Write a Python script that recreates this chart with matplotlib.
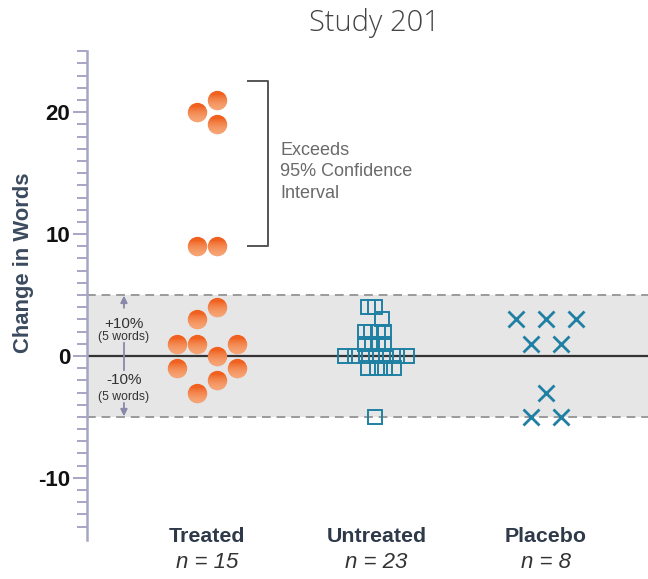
import matplotlib
matplotlib.use("Agg")
import numpy as np
import matplotlib.pyplot as plt
import matplotlib.transforms as mtransforms
from matplotlib.path import Path

plt.rcParams["axes.unicode_minus"] = False

# ---- data -------------------------------------------------------------
groups = ["Treated", "Untreated", "Placebo"]
group_n = ["n = 15", "n = 23", "n = 8"]

treated = [21, 20, 19, 9, 9, 4, 3, 1, 1, 1, 0, -1, -1, -2, -3]
untreated = [4, 4, 3, 2, 2, 2, 2, 1, 1, 1, 1,
             0, 0, 0, 0, 0, 0, 0, -1, -1, -1, -1, -5]
placebo = [3, 3, 3, 1, 1, -3, -5, -5]

band_limit = 5          # +/-10% of baseline (5 words)
ci_low, ci_high = 9, 22.6

# ---- swarm layout (horizontal lanes inside each group) ----------------
treated_lanes = [0.5, -0.5, 0.5, -0.5, 0.5, 0.5, -0.5, -1.5, -0.5, 1.5,
                 0.5, -1.5, 1.5, 0.5, -0.5]
untreated_lanes = [-8, -1, 6, -11, -5, 2, 8, -11, -4, 2, 8,
                   -31, -21, -10, 0, 10, 21, 31, -8, 1, 9, 18, -1]
placebo_lanes = [-2, 0, 2, -1, 1, 0, -1, 1]

treated_step = 0.118
untreated_step = 1 / 169.5
placebo_step = 0.0885

orange = "#f0611f"
orange_light = "#fcc39c"
teal = "#1f80a3"
axis_col = "#a7a5c6"
FONT = "Liberation Sans"


def lower_segment(t, n=60):
    """Part of the unit circle below y = t, anchored to the full radius."""
    a0 = np.arcsin(np.clip(t, -1, 1))
    ang = np.linspace(np.pi - a0, 2 * np.pi + a0, n)
    ring = np.column_stack([np.cos(ang), np.sin(ang)])
    # the top pole keeps every segment scaled like the whole disc
    verts = np.vstack([ring, [[0, 1]], ring[:1]])
    codes = [Path.MOVETO] + [Path.LINETO] * (n - 1) + \
            [Path.MOVETO, Path.CLOSEPOLY]
    return Path(verts, codes)


fig = plt.figure(figsize=(6.48, 5.79), dpi=100)
ax = fig.add_axes([87 / 648, 39 / 579, 1 - 87 / 648, (540 - 50.7) / 579])
ax.set_xlim(-0.708, 2.602)
ax.set_ylim(-15.1, 25.05)

# shaded +/-10% band with dashed limits and zero line
ax.axhspan(-band_limit, band_limit, color="#e6e6e6", zorder=0, lw=0)
for yv in (-band_limit, band_limit):
    ax.axhline(yv, color="#9a9a9a", lw=1.4, ls=(0, (4.5, 3)), zorder=1)
ax.axhline(0, color="#333333", lw=1.6, zorder=1)

# treated: shaded orange discs
tx = [0 + s * treated_step for s in treated_lanes]
ax.plot(tx, treated, "o", ms=13.9, mfc=orange, mec="none", zorder=4,
        clip_on=False)
for t in np.linspace(0.55, -0.75, 7):
    ax.plot(tx, treated, ls="none", marker=lower_segment(t), ms=13.9,
            mfc=orange_light, mec="none", alpha=0.16, zorder=5,
            clip_on=False)

ax.plot([1 + s * untreated_step for s in untreated_lanes], untreated, "s",
        ms=10.6, mfc="none", mec=teal, mew=1.4, zorder=4)
ax.plot([2 + s * placebo_step for s in placebo_lanes], placebo, "x",
        ms=12, mec=teal, mew=2.0, zorder=4)

# bracket for values outside the confidence interval
bx0, bx1 = 0.242, 0.36
ax.plot([bx0, bx1, bx1, bx0], [ci_high, ci_high, ci_low, ci_low],
        color="#555555", lw=1.4, zorder=3)
ax.text(0.431, 15.1, "Exceeds\n95% Confidence\nInterval", fontsize=13,
        color="#6a6a6a", va="center", ha="left", linespacing=1.36,
        family=FONT)

# band annotations
ax_x = -0.49
arr_col = "#8a88aa"
arr = dict(arrowstyle="-|>", color=arr_col, lw=1.3, mutation_scale=10,
           shrinkA=0, shrinkB=0)
ax.annotate("", xy=(ax_x, 4.95), xytext=(ax_x, 3.95), arrowprops=arr)
ax.annotate("", xy=(ax_x, -4.95), xytext=(ax_x, -3.85), arrowprops=arr)
ax.plot([ax_x, ax_x], [1.07, -1.15], color=arr_col, lw=1.3, zorder=2)
ax.text(ax_x, 2.65, "+10%", ha="center", va="center", fontsize=11,
        color="#333333", family=FONT)
ax.text(ax_x, 1.55, "(5 words)", ha="center", va="center", fontsize=8.8,
        color="#333333", family=FONT)
ax.text(ax_x, -1.97, "-10%", ha="center", va="center", fontsize=11,
        color="#333333", family=FONT)
ax.text(ax_x, -3.36, "(5 words)", ha="center", va="center", fontsize=8.8,
        color="#333333", family=FONT)

# axes styling
for side in ("top", "right", "bottom"):
    ax.spines[side].set_visible(False)
ax.spines["left"].set_color(axis_col)
ax.spines["left"].set_linewidth(1.8)
ax.set_xticks([])
ax.set_yticks([-10, 0, 10, 20])
ax.set_yticks(range(-14, 26), minor=True)
ax.tick_params(axis="y", which="major", length=10, width=1.4,
               color=axis_col, pad=2)
ax.tick_params(axis="y", which="minor", length=7, width=1.4, color=axis_col)
for lab in ax.get_yticklabels():
    lab.set_fontsize(16)
    lab.set_fontweight("bold")
    lab.set_family(FONT)
    lab.set_color("#111111")

fig.text(24 / 648, 1 - 263 / 579, "Change in Words", rotation=90,
         ha="center", va="center", fontsize=15.8, fontweight="bold",
         color="#3b4a5e", family=FONT)

# group labels under the axis
trans = mtransforms.blended_transform_factory(ax.transData, fig.transFigure)
for i, (g, n) in enumerate(zip(groups, group_n)):
    ax.text(i, 1 - 537 / 579, g, transform=trans, ha="center", va="center",
            fontsize=15.4, fontweight="bold", color="#2e3a4a", family=FONT)
    ax.text(i, 1 - 563 / 579, n, transform=trans, ha="center", va="center",
            fontsize=16, style="italic", color="#333333", family=FONT)

fig.text(374 / 648, 1 - 23 / 579, "Study 201", ha="center", va="center",
         fontsize=21, color="#444444", family="Open Sans",
         fontweight="light")

fig.savefig("out.png", dpi=100, facecolor="white")
